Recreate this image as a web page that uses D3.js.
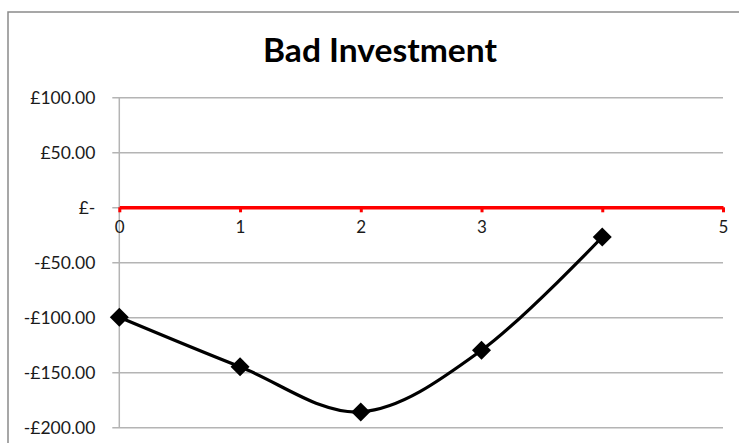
<!DOCTYPE html>
<html>
<head>
<meta charset="utf-8">
<script src="https://cdn.jsdelivr.net/npm/d3@7"></script>
<style>
  html, body { margin: 0; padding: 0; background: #fff; }
  svg { display: block; }
</style>
</head>
<body>
<svg id="chart" width="739" height="443"></svg>
<script>
// Cash position over time (years)
const years = [0, 1, 2, 3, 4];
const balance = [-100, -145, -186, -130, -27];

// Axis ticks
const xTicks = [0, 1, 2, 3, 4, 5];
// the "4" label sits underneath the last marker, so it is left blank
const xTickLabels = ["0", "1", "2", "3", "", "5"];
const yTicks = [100, 50, 0, -50, -100, -150, -200];
const yTickLabels = ["£100.00", "£50.00", "£-", "-£50.00", "-£100.00", "-£150.00", "-£200.00"];

const title = "Bad Investment";

const W = 739, H = 443;
const plot = { left: 119.3, right: 723, top: 97.3, bottom: 427.3 };
const labelFont = "Lato, 'Open Sans', sans-serif";

const svg = d3.select("#chart");

// outer chart frame (right and bottom edges fall outside the view)
svg.append("rect")
  .attr("x", 8).attr("y", 12)
  .attr("width", W + 20).attr("height", H + 20)
  .attr("fill", "#fff")
  .attr("stroke", "#8a8a8a")
  .attr("stroke-width", 1.5);

const x = d3.scaleLinear().domain([0, 5]).range([plot.left, plot.right]);
const y = d3.scaleLinear().domain([-200, 100]).range([plot.bottom, plot.top]);

// title
svg.append("text")
  .attr("x", 380).attr("y", 61.5)
  .attr("text-anchor", "middle")
  .attr("font-family", labelFont)
  .attr("font-weight", "bold")
  .attr("font-size", 32)
  .attr("fill", "#000")
  .attr("textLength", 234)
  .attr("lengthAdjust", "spacingAndGlyphs")
  .text(title);

// horizontal gridlines with short outer ticks
const yAxis = d3.axisLeft(y)
  .tickValues(yTicks)
  .tickSize(plot.right - plot.left)
  .tickSizeOuter(0)
  .tickFormat((d, i) => yTickLabels[i]);

const gy = svg.append("g")
  .attr("transform", `translate(${plot.right},0)`)
  .call(yAxis);
gy.select(".domain").remove();
gy.selectAll(".tick line")
  .attr("stroke", "#b4b4b4")
  .attr("stroke-width", 1.5)
  .attr("x2", -(plot.right - plot.left) - 7);
gy.selectAll(".tick text")
  .attr("x", -(plot.right - plot.left) - 24)
  .attr("dy", "0.36em")
  .attr("fill", "#1a1a1a")
  .attr("font-family", labelFont)
  .attr("font-size", 17.5)
  .attr("text-anchor", "end");

// vertical value axis line
svg.append("line")
  .attr("x1", plot.left).attr("x2", plot.left)
  .attr("y1", plot.top).attr("y2", plot.bottom)
  .attr("stroke", "#b4b4b4")
  .attr("stroke-width", 1.5);

// category axis crossing at zero, drawn in red
const xAxis = d3.axisBottom(x)
  .tickValues(xTicks)
  .tickSize(5)
  .tickSizeOuter(0)
  .tickFormat((d, i) => xTickLabels[i]);

const gx = svg.append("g")
  .attr("transform", `translate(0,${y(0)})`)
  .call(xAxis);
gx.select(".domain")
  .attr("stroke", "#ff0000")
  .attr("stroke-width", 3.5);
gx.selectAll(".tick line")
  .attr("stroke", "#ff0000")
  .attr("stroke-width", 3);
gx.selectAll(".tick text")
  .attr("y", 20)
  .attr("dy", "0.32em")
  .attr("fill", "#1a1a1a")
  .attr("font-family", labelFont)
  .attr("font-size", 17);

// smoothed series line
const pts = years.map((d, i) => [d, balance[i]]);
const line = d3.line()
  .x(d => x(d[0]))
  .y(d => y(d[1]))
  .curve(d3.curveCardinal.tension(0));

svg.append("path")
  .datum(pts)
  .attr("d", line)
  .attr("fill", "none")
  .attr("stroke", "#000")
  .attr("stroke-width", 3.2);

// diamond markers
const diamond = d3.symbol().type(d3.symbolDiamond2).size(230);
svg.append("g")
  .selectAll("path")
  .data(pts)
  .join("path")
  .attr("transform", d => `translate(${x(d[0])},${y(d[1])})`)
  .attr("d", diamond)
  .attr("fill", "#000");
</script>
</body>
</html>
